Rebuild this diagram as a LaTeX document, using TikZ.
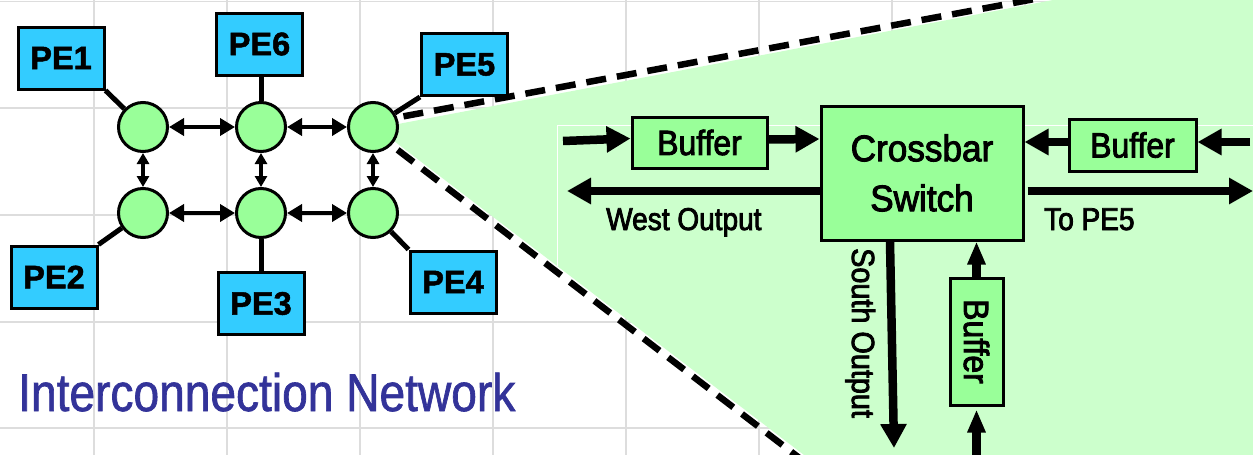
\documentclass[tikz,border=0pt]{standalone}
\usepackage{fontspec}
\setmainfont{Liberation Sans}
\newfontfamily\pefont[FakeBold=1.5]{Liberation Sans Bold}
\newfontfamily\titlefont[FakeStretch=0.87,FakeBold=1.2]{Liberation Sans}
\newfontfamily\cbfont[FakeStretch=0.95,FakeBold=2.5]{Liberation Sans}
\newfontfamily\buffont[FakeStretch=0.91,FakeBold=2.5]{Liberation Sans}
\newfontfamily\labfont[FakeStretch=0.89,FakeBold=2.5]{Liberation Sans}
\newfontfamily\southfont[FakeStretch=0.90,FakeBold=2.5]{Liberation Sans}
\usetikzlibrary{arrows.meta}
\definecolor{gridgray}{HTML}{DDDDDD}
\definecolor{pecyan}{HTML}{33CCFF}
\definecolor{nodegreen}{HTML}{99FF99}
\definecolor{zonegreen}{HTML}{CCFFCC}
\definecolor{titleblue}{HTML}{333399}
\tikzset{
  gridline/.style={draw=gridgray, line width=1.3pt},
  zoomline/.style={draw=black, line width=6.5pt, dash pattern=on 20pt off 11pt},
  router/.style={circle, draw=black, line width=3pt, fill=nodegreen, minimum size=49pt, inner sep=0pt},
  pebox/.style={rectangle, draw=black, line width=3pt, fill=pecyan, minimum width=86pt, minimum height=62pt, inner sep=0pt, font=\pefont\fontsize{32.5pt}{32.5pt}\selectfont},
  peline/.style={draw=black, line width=5pt},
  harrow/.style={draw=black, line width=4.5pt, {Triangle[length=15pt,width=17pt]}-{Triangle[length=15pt,width=17pt]}},
  varrow/.style={draw=black, line width=4pt, {Triangle[length=11pt,width=12pt]}-{Triangle[length=11pt,width=12pt]}},
  swbox/.style={rectangle, draw=black, line width=3pt, fill=nodegreen, inner sep=0pt, align=center, font=\cbfont\fontsize{37pt}{50pt}\selectfont},
  bufbox/.style={rectangle, draw=black, line width=3pt, fill=nodegreen, inner sep=0pt, font=\buffont\fontsize{35pt}{35pt}\selectfont},
  bigarrow/.style={draw=black, line width=8.5pt, -{Triangle[length=24pt,width=25pt]}},
  vbigarrow/.style={draw=black, line width=8.5pt, -{Triangle[length=23pt,width=17pt]}},
  lbl/.style={inner sep=0pt, font=\labfont\fontsize{31.5pt}{36pt}\selectfont},
  southlbl/.style={inner sep=0pt, font=\southfont\fontsize{32pt}{36pt}\selectfont},
  titlelbl/.style={inner sep=0pt, text=titleblue, font=\titlefont\fontsize{53pt}{60pt}\selectfont}
}
\begin{document}
\begin{tikzpicture}[x=1pt,y=-1pt]
\useasboundingbox (0,0) rectangle (1253,455);
\clip (0,0) rectangle (1253,455);
\fill[white] (0,0) rectangle (1253,455);
% background grid
\foreach \gx in {94,227,360,493,626,759,892,1025,1158}
  \draw[gridline] (\gx,0) -- (\gx,455);
\foreach \gy in {1.5,108,215,322,428}
  \draw[gridline] (0,\gy) -- (1253,\gy);
% zoom wedge
\fill[zonegreen] (377,128) -- (1053,0) -- (1253,0) -- (1253,455) -- (804,455) -- cycle;
\draw[white, line width=1pt] (557,266) -- (557,125) -- (1253,125);
\draw[zoomline] (373,122) -- (1040,-2);
\draw[zoomline] (373,131) -- (802,460);
% routers
\node[router] (r1) at (143,127) {};
\node[router] (r2) at (261,127) {};
\node[router] (r3) at (373,127) {};
\node[router] (r4) at (143,213) {};
\node[router] (r5) at (261,213) {};
\node[router] (r6) at (373,213) {};
% PEs
\node[pebox] (pe1) at (61,58) {PE1};
\node[pebox] (pe6) at (259.5,44) {PE6};
\node[pebox] (pe5) at (464.5,64.5) {PE5};
\node[pebox] (pe2) at (54,277) {PE2};
\node[pebox] (pe3) at (261,303.5) {PE3};
\node[pebox] (pe4) at (453,282) {PE4};
\draw[peline] (pe1.south east) -- (r1);
\draw[peline] (pe6.south -| r2) -- (r2);
\draw[peline] (pe5.south west) -- (r3);
\draw[peline] (pe2.north east) -- (r4);
\draw[peline] (pe3.north -| r5) -- (r5);
\draw[peline] (pe4.north west) -- (r6);
% router links
\draw[harrow] (r1) -- (r2);
\draw[harrow] (r2) -- (r3);
\draw[harrow] (r4) -- (r5);
\draw[harrow] (r5) -- (r6);
\draw[varrow] (r1) -- (r4);
\draw[varrow] (r2) -- (r5);
\draw[varrow] (r3) -- (r6);
% title
\node[titlelbl, anchor=base west] (title) at (18,411) {Interconnection Network};
% crossbar detail
\node[swbox, minimum width=202pt, minimum height=134pt] (cb) at (922,173) {Crossbar\\Switch};
\node[bufbox, minimum width=135pt, minimum height=51pt] (lb) at (699.5,142.5) {Buffer};
\node[bufbox, minimum width=127pt, minimum height=52pt] (rb) at (1132.5,145) {Buffer};
\node[bufbox, rotate=-90, minimum width=127pt, minimum height=53pt] (bb) at (976.5,341.5) {Buffer};
\coordinate (inL) at (563,141);
\coordinate (westEnd) at (567,191);
\coordinate (eastEnd) at (1253,191);
\coordinate (inR) at (1250,142);
\coordinate (southEnd) at (894,448);
\coordinate (inB) at (976.5,460);
\draw[bigarrow] (inL) -- ([yshift=4pt]lb.west);
\draw[bigarrow] ([yshift=3pt]lb.east) -- ([yshift=34pt]cb.west);
\draw[bigarrow] ([yshift=-18pt]cb.west) -- (westEnd);
\draw[bigarrow] ([xshift=3pt,yshift=-18pt]cb.east) -- (eastEnd);
\draw[bigarrow] (inR) -- ([yshift=3pt]rb.east);
\draw[bigarrow] ([yshift=3pt]rb.west) -- ([yshift=31pt]cb.east);
\draw[bigarrow] ([xshift=-32pt]cb.south) -- (southEnd);
\draw[vbigarrow] (bb.west) -- (cb.south -| bb.west);
\draw[vbigarrow] (inB) -- ([yshift=-3pt]bb.east);
\node[lbl, anchor=base west] (wo) at (606,230) {West Output};
\node[lbl, anchor=base west] (tp) at (1044,230) {To PE5};
\node[southlbl, rotate=-90, anchor=base west] (so) at (852,248) {South Output};
\end{tikzpicture}
\end{document}
